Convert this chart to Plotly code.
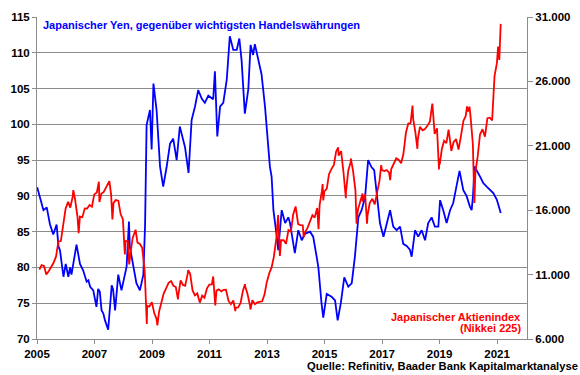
import plotly.graph_objects as go

# --- Yen trade-weighted index (left axis) ---
yen_dates = [
"2005-01-03","2005-02-10","2005-03-24","2005-05-05","2005-06-15","2005-07-27","2005-09-07","2005-10-01","2005-10-20","2005-12-03",
"2006-01-01","2006-02-03","2006-02-25","2006-03-15","2006-05-18","2006-07-01","2006-08-10","2006-09-24","2006-10-16","2006-11-07","2006-12-17",
"2007-01-26","2007-02-17","2007-03-10","2007-04-01","2007-04-23","2007-05-15","2007-06-24","2007-08-08","2007-08-26","2007-09-20","2007-10-30","2007-12-10",
"2008-02-13","2008-03-14","2008-03-25","2008-05-08","2008-06-17","2008-07-31","2008-09-13","2008-10-05","2008-10-24","2008-12-06","2008-12-27",
"2009-01-19","2009-02-28","2009-04-13","2009-05-23","2009-07-05","2009-08-18","2009-09-27","2009-11-10","2009-12-20",
"2010-02-24","2010-04-10","2010-05-19","2010-07-01","2010-08-11","2010-09-24","2010-11-03","2010-12-17",
"2011-02-17","2011-03-11","2011-04-10","2011-05-16","2011-06-25","2011-08-08","2011-09-16","2011-10-30","2011-12-13",
"2012-01-15","2012-02-13","2012-03-25","2012-05-08","2012-06-06","2012-07-08","2012-07-30","2012-09-09","2012-10-23","2012-12-06","2012-12-28",
"2013-02-06","2013-02-28","2013-03-23","2013-05-05","2013-05-23","2013-07-06","2013-08-19","2013-09-28","2013-10-20","2013-12-20",
"2014-02-02","2014-03-18","2014-04-27","2014-07-01","2014-08-10","2014-09-23","2014-10-15","2014-11-24","2014-12-16",
"2015-01-29","2015-04-01","2015-05-15","2015-06-17","2015-07-27","2015-09-09","2015-10-30","2015-12-13",
"2016-01-22","2016-03-06","2016-04-16","2016-05-30","2016-07-08","2016-08-21","2016-09-23","2016-10-26","2016-12-05",
"2017-01-19","2017-02-28","2017-04-13","2017-05-23","2017-07-05","2017-08-18","2017-09-27","2017-11-10","2017-12-20",
"2018-01-12","2018-02-24","2018-04-05","2018-05-19","2018-07-01","2018-08-10","2018-09-23","2018-11-03","2018-12-17",
"2019-01-08","2019-02-17","2019-04-01","2019-05-15","2019-06-24","2019-08-07","2019-09-12","2019-10-30","2019-12-10",
"2020-01-22","2020-02-13","2020-03-01","2020-03-20","2020-05-30","2020-07-09","2020-08-22","2020-10-05","2020-11-14","2020-12-28",
"2021-02-06","2021-02-17"]
yen_values = [
91.2,89.5,88.0,88.4,86.0,84.6,86.0,82.9,82.4,78.7,
80.5,78.7,80.0,79.0,83.2,80.5,79.6,78.0,78.2,77.3,76.8,
74.5,77.0,76.6,74.0,73.6,72.6,71.3,77.5,76.9,74.0,79.0,76.8,
80.1,86.4,82.9,80.1,77.8,76.8,79.0,86.0,99.9,102.0,96.5,
105.7,102.0,94.1,91.3,94.0,97.3,98.0,95.0,99.7,
96.8,93.2,100.6,102.5,104.8,103.6,103.0,104.0,
103.5,107.4,98.3,102.5,103.0,106.2,112.3,110.4,110.4,
112.0,108.9,101.5,104.9,111.1,109.7,111.2,109.3,107.0,102.5,99.7,
94.1,92.7,88.0,84.3,82.4,88.0,86.2,87.0,86.2,82.0,
85.2,83.8,84.7,85.0,84.3,81.5,80.0,75.0,73.0,
76.3,75.9,75.4,72.6,75.0,78.6,77.3,77.8,
81.5,87.0,88.0,89.8,95.0,94.0,93.6,89.9,86.2,
84.3,86.2,88.0,85.7,85.2,85.7,83.3,83.0,82.5,
81.5,85.2,84.3,85.2,83.8,86.2,87.0,85.7,85.7,
89.4,88.0,86.2,88.0,89.0,91.5,93.5,90.8,90.0,
88.5,88.0,90.0,94.1,92.7,91.8,91.3,90.8,90.4,89.5,
88.0,87.6]

# --- Nikkei 225 (right axis) ---
nikkei_dates = [
"2005-01-31","2005-02-28","2005-03-31","2005-04-29","2005-05-31","2005-06-30","2005-07-29","2005-08-31","2005-09-30","2005-10-31","2005-11-30","2005-12-30",
"2006-01-31","2006-02-28","2006-03-31","2006-04-07","2006-04-28","2006-05-31","2006-06-14","2006-06-30","2006-07-31","2006-08-31","2006-09-29","2006-10-31","2006-11-30","2006-12-29",
"2007-01-31","2007-02-26","2007-03-05","2007-03-30","2007-04-27","2007-05-31","2007-06-29","2007-07-09","2007-07-31","2007-08-17","2007-08-31","2007-09-28","2007-10-31","2007-11-30","2007-12-28",
"2008-01-22","2008-01-31","2008-02-29","2008-03-17","2008-03-31","2008-04-30","2008-05-30","2008-06-06","2008-06-30","2008-07-31","2008-08-29","2008-09-30","2008-10-27","2008-10-31","2008-11-28","2008-12-30",
"2009-01-30","2009-02-27","2009-03-10","2009-03-31","2009-04-30","2009-05-29","2009-06-30","2009-07-31","2009-08-31","2009-09-30","2009-10-30","2009-11-27","2009-11-30","2009-12-30",
"2010-01-29","2010-02-26","2010-03-31","2010-04-05","2010-04-30","2010-05-31","2010-06-30","2010-07-30","2010-08-31","2010-09-30","2010-10-29","2010-11-30","2010-12-30",
"2011-01-31","2011-02-17","2011-03-15","2011-03-31","2011-04-28","2011-05-31","2011-06-30","2011-07-29","2011-08-31","2011-09-30","2011-10-31","2011-11-25","2011-11-30","2011-12-30",
"2012-01-31","2012-02-29","2012-03-27","2012-03-30","2012-04-27","2012-05-31","2012-06-04","2012-06-29","2012-07-31","2012-08-31","2012-09-28","2012-10-31","2012-11-30","2012-12-28",
"2013-01-31","2013-02-28","2013-03-29","2013-04-30","2013-05-22","2013-05-31","2013-06-13","2013-06-28","2013-07-31","2013-08-30","2013-09-30","2013-10-31","2013-11-29","2013-12-30",
"2014-01-31","2014-02-28","2014-03-31","2014-04-11","2014-04-30","2014-05-30","2014-06-30","2014-07-31","2014-08-29","2014-09-30","2014-10-17","2014-10-31","2014-11-28","2014-12-08","2014-12-16","2014-12-30",
"2015-01-30","2015-02-27","2015-03-31","2015-04-30","2015-05-29","2015-06-24","2015-06-30","2015-07-31","2015-08-31","2015-09-29","2015-09-30","2015-10-30","2015-11-30","2015-12-01","2015-12-30",
"2016-01-29","2016-02-12","2016-02-29","2016-03-31","2016-04-28","2016-04-29","2016-05-31","2016-06-24","2016-06-30","2016-07-29","2016-08-31","2016-09-30","2016-10-31","2016-11-30","2016-12-21","2016-12-30",
"2017-01-31","2017-02-28","2017-03-31","2017-04-14","2017-04-28","2017-05-31","2017-06-30","2017-07-31","2017-08-31","2017-09-29","2017-10-31","2017-11-30","2017-12-29",
"2018-01-23","2018-01-31","2018-02-28","2018-03-26","2018-03-30","2018-04-27","2018-05-31","2018-06-29","2018-07-31","2018-08-31","2018-09-28","2018-10-02","2018-10-31","2018-11-30","2018-12-25","2018-12-28",
"2019-01-04","2019-01-31","2019-02-28","2019-03-29","2019-04-26","2019-05-31","2019-06-28","2019-07-31","2019-08-30","2019-09-30","2019-10-31","2019-11-29","2019-12-17","2019-12-30",
"2020-01-17","2020-01-31","2020-02-28","2020-03-19","2020-03-31","2020-04-30","2020-05-29","2020-06-30","2020-07-31","2020-08-31","2020-09-30","2020-10-30","2020-11-30","2020-12-30",
"2021-01-14","2021-01-29","2021-02-16"]
nikkei_values = [
11388,11740,11669,11009,11277,11584,11900,12414,13574,13607,14872,16111,
16650,16205,17060,17563,16907,15467,14219,15505,15457,16141,16128,16399,16274,17226,
17383,18215,16642,17288,17400,17876,18138,18262,17249,15273,16569,16786,16738,15681,15308,
12573,13592,13603,11787,12526,13850,14339,14489,13481,13377,13073,11260,7163,8577,8512,8860,
7994,7568,7055,8110,8828,9523,9958,10357,10493,10133,10035,9081,9346,10546,
10198,10126,11090,11339,11057,9769,9383,9537,8824,9369,9202,9937,10229,
10238,10857,8605,9755,9850,9694,9816,9833,8955,8700,8988,8160,8435,8455,
8803,9723,10255,10084,9521,8543,8295,9007,8695,8840,8870,8928,9446,10395,
11139,11559,12398,13861,15627,13775,12445,13677,13668,13389,14456,14328,15662,16291,
14915,14841,14828,13910,14304,14632,15162,15621,15425,16174,14532,16414,17460,18030,16756,17451,
17674,18798,19207,19520,20563,20868,20236,20585,18890,16931,17388,19083,19747,20012,19034,
17518,14953,16027,16759,17290,16666,17235,14952,15576,16569,16887,16450,17425,18308,19494,19114,
19041,19119,18909,18335,19197,19651,20033,19925,19646,20356,22012,22725,22765,
24124,23098,22068,20766,21454,22468,22202,22305,22554,22865,24120,24270,21920,22351,19155,20015,
19561,20773,21385,21206,22259,20601,21276,21522,20704,21756,22927,23294,24066,23657,
24041,23205,21143,16552,18917,20194,21878,22288,21710,23140,23185,22977,26434,27444,
28698,27663,30467]

year_ticks = [2005, 2007, 2009, 2011, 2013, 2015, 2017, 2019, 2021]
left_ticks = [70, 75, 80, 85, 90, 95, 100, 105, 110, 115]
right_ticks = [6000, 11000, 16000, 21000, 26000, 31000]

FONT = "Liberation Sans, Arial, sans-serif"
GRID = "#8c8c8c"
TICKFONT = dict(family=FONT, size=11.5, color="black", weight="bold")

fig = go.Figure()
fig.add_trace(go.Scatter(x=yen_dates, y=yen_values, mode="lines",
                         line=dict(color="#0000ff", width=1.8), yaxis="y", showlegend=False))
fig.add_trace(go.Scatter(x=nikkei_dates, y=nikkei_values, mode="lines",
                         line=dict(color="#ff0000", width=1.8), yaxis="y2", showlegend=False))

fig.update_layout(
    width=580, height=375,
    margin=dict(l=37, r=53, t=17, b=36, autoexpand=False),
    paper_bgcolor="white", plot_bgcolor="white",
    separators=",.",
    font=dict(family=FONT, size=11, color="black"),
    xaxis=dict(
        type="date", range=["2005-01-01", "2022-01-16"],
        tickvals=[f"{y}-01-01" for y in year_ticks],
        ticktext=[str(y) for y in year_ticks],
        showgrid=False, zeroline=False,
        showline=True, linecolor=GRID, linewidth=1,
        ticks="outside", ticklen=4, tickcolor=GRID,
        tickfont=TICKFONT, automargin=False,
    ),
    yaxis=dict(
        range=[70, 115], tickvals=left_ticks,
        showgrid=True, gridcolor=GRID, gridwidth=1, zeroline=False,
        showline=True, linecolor=GRID, linewidth=1,
        ticks="outside", ticklen=4, tickcolor=GRID,
        tickfont=TICKFONT, automargin=False,
    ),
    yaxis2=dict(
        overlaying="y", side="right",
        range=[6000, 31000], tickvals=right_ticks, tickformat=",d",
        showgrid=False, zeroline=False,
        showline=True, linecolor=GRID, linewidth=1,
        ticks="outside", ticklen=5, tickcolor=GRID,
        tickfont=TICKFONT, automargin=False,
    ),
    annotations=[
        dict(text="<b>Japanischer Yen, gegenüber wichtigsten Handelswährungen</b>",
             xref="paper", yref="paper", x=0.008, y=0.975, xanchor="left", yanchor="middle",
             showarrow=False, font=dict(family=FONT, size=11, color="#0000ff")),
        dict(text="<b>Japanischer Aktienindex</b>",
             xref="paper", yref="paper", x=0.991, y=0.069, xanchor="right", yanchor="middle",
             showarrow=False, font=dict(family=FONT, size=11, color="#ff0000")),
        dict(text="<b>(Nikkei 225)</b>",
             xref="paper", yref="paper", x=0.991, y=0.033, xanchor="right", yanchor="middle",
             showarrow=False, font=dict(family=FONT, size=11, color="#ff0000")),
        dict(text="<b>Quelle: Refinitiv, Baader Bank Kapitalmarktanalyse</b>",
             xref="paper", yref="paper", x=1.108, y=-0.084, xanchor="right", yanchor="middle",
             showarrow=False, font=dict(family=FONT, size=11.2, color="black")),
    ],
)

fig.write_html("out.html", config={"displayModeBar": False},
               post_script="document.body.style.margin='0';document.body.style.padding='0';")
